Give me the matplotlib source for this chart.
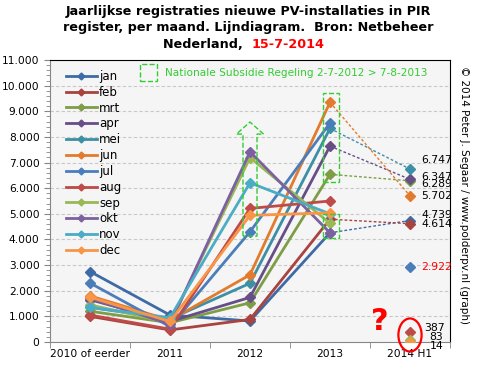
import numpy as np
import matplotlib
matplotlib.use('Agg')
import matplotlib.pyplot as plt
from matplotlib.patches import Polygon, Rectangle, Ellipse
from matplotlib.ticker import MultipleLocator, FuncFormatter

## data
years = ['2010 of eerder', '2011', '2012', '2013', '2014 H1']
months = ['jan', 'feb', 'mrt', 'apr', 'mei', 'jun',
          'jul', 'aug', 'sep', 'okt', 'nov', 'dec']

jan = [2750, 1050, 820, 4260]
feb = [1000, 470, 880, 4790]
mrt = [1200, 750, 1530, 6540]
apr = [1650, 800, 1740, 7640]
mei = [1350, 900, 2290, 8330]
jun = [1800, 850, 2620, 9350]
jul = [2300, 600, 4300, 8540]
aug = [1050, 500, 5210, 5500]
sep = [1450, 750, 7190, 4630]
okt = [1700, 700, 7420, 4260]
nov = [1350, 950, 6210, 5000]
dec = [1750, 800, 4940, 5040]

# 2014 H1 registrations (None = no value)
h1_2014 = [4739, 4614, 6289, 6347, 6747, 5702, 2922, 387, 83, None, None, 14]

colors = ['#3E6BA6', '#A8433F', '#7E9D47', '#664E87', '#3D8FA6', '#E27B2D',
          '#4A7EBB', '#BE4B48', '#98B954', '#7D60A0', '#4BACC6', '#F79646']

# label offsets (points) for the 2014 value texts
lab_dx = [8, 8, 8, 8, 8, 8, 8, 10, 14, 0, 0, 14]
lab_dy = [4, 0, -2, 2, 6.5, 0, 0, 3, 2, 0, 0, -3]


def fmt(v, pos=None):
    return '{:,}'.format(int(v)).replace(',', '.')


def main():
    series = [jan, feb, mrt, apr, mei, jun, jul, aug, sep, okt, nov, dec]
    x = np.arange(len(years))

    fig = plt.figure(figsize=(4.78, 3.70), dpi=100)
    ax = fig.add_axes([50/478, 28/370, 400/478, 282/370])
    ax.set_facecolor('#F5F5F5')

    for i, s in enumerate(series):
        ax.plot(x[:4], s, color=colors[i], lw=2.0, marker='D', ms=5,
                label=months[i], zorder=3)
        v = h1_2014[i]
        if v is None:
            continue
        if i < 6:
            ax.plot([x[3], x[4]], [s[3], v], color=colors[i], lw=1.0,
                    ls=(0, (2, 1.5)), zorder=2)
        ax.plot([x[4]], [v], color=colors[i], marker='D', ms=5, zorder=4)
        ax.annotate(fmt(v), (x[4], v), xytext=(lab_dx[i], lab_dy[i]),
                    textcoords='offset points', va='center', ha='left',
                    fontsize=7.8, color='red' if i == 6 else 'black',
                    annotation_clip=False, zorder=5)

    ax.set_xlim(-0.5, 4.5)
    ax.set_ylim(0, 11000)
    ax.yaxis.set_major_locator(MultipleLocator(1000))
    ax.yaxis.set_minor_locator(MultipleLocator(200))
    ax.yaxis.set_major_formatter(FuncFormatter(fmt))
    ax.set_xticks(x)
    ax.set_xticklabels(years)
    ax.set_xticks(np.arange(-0.5, 5, 1), minor=True)
    ax.tick_params(axis='x', which='major', length=0, labelsize=7.7, pad=5)
    ax.tick_params(axis='x', which='minor', length=4, color='#868686')
    ax.tick_params(axis='y', which='major', length=4, color='#868686', labelsize=7.7)
    ax.tick_params(axis='y', which='minor', length=3, color='#868686')
    ax.grid(axis='y', color='#C8C8C8', ls=(0, (3, 2)), lw=0.8)
    ax.set_axisbelow(True)
    ax.spines['left'].set_color('#868686')
    ax.spines['bottom'].set_color('#868686')
    ax.spines['top'].set_color('black')
    ax.spines['right'].set_color('black')

    # subsidy boxes
    green = '#33CC33'
    arrow = Polygon([(1.9125, 4130), (1.9125, 8110), (1.83, 8110), (2.0, 8580),
                     (2.17, 8110), (2.0875, 8110), (2.0875, 4130)],
                    closed=True, fill=False, ec=green, ls='--', lw=1, zorder=6)
    ax.add_patch(arrow)
    ax.add_patch(Rectangle((2.91, 6250), 0.2, 3450, fill=False, ec=green,
                           ls='--', lw=1, zorder=6))
    ax.add_patch(Rectangle((2.91, 4040), 0.2, 960, fill=False, ec=green,
                           ls='--', lw=1, zorder=6))
    ax.add_patch(Rectangle((0.225, 0.925), 0.0425, 0.06, transform=ax.transAxes,
                           fill=False, ec=green, ls='--', lw=1, zorder=6))
    ax.text(0.2875, 0.955, 'Nationale Subsidie Regeling 2-7-2012 > 7-8-2013',
            transform=ax.transAxes, color=green, fontsize=7.6, va='center')

    # question mark and ellipse
    ax.add_patch(Ellipse((4.0, 273), 0.29, 1290, fill=False, ec='red', lw=1.6,
                         clip_on=False, zorder=6))
    ax.text(3.62, 800, '?', color='red', fontsize=22, fontweight='bold',
            ha='center', va='center')

    ax.legend(loc='upper left', bbox_to_anchor=(0.04, 0.965), frameon=False,
              fontsize=8.5, handlelength=2.6, handletextpad=0.2,
              labelspacing=0.24, borderpad=0, borderaxespad=0, markerscale=0.7)

    fig.text(248/478, 1 - 12/370, 'Jaarlijkse registraties nieuwe PV-installaties in PIR',
             ha='center', va='center', fontsize=9.2, fontweight='bold')
    fig.text(248/478, 1 - 28/370, 'register, per maand. Lijndiagram.  Bron: Netbeheer',
             ha='center', va='center', fontsize=9.2, fontweight='bold')
    fig.text(252/478, 1 - 44/370, 'Nederland,  ', ha='right', va='center',
             fontsize=9.2, fontweight='bold')
    fig.text(252/478, 1 - 44/370, '15-7-2014', ha='left', va='center',
             fontsize=9.2, fontweight='bold', color='red')

    fig.text(464/478, 1 - 195/370, '\u00a9 2014 Peter J. Segaar / www.polderpv.nl (graph)',
             rotation=270, ha='center', va='center', fontsize=7.5)

    plt.savefig('out.png', dpi=100)


if __name__ == "__main__":
    main()
